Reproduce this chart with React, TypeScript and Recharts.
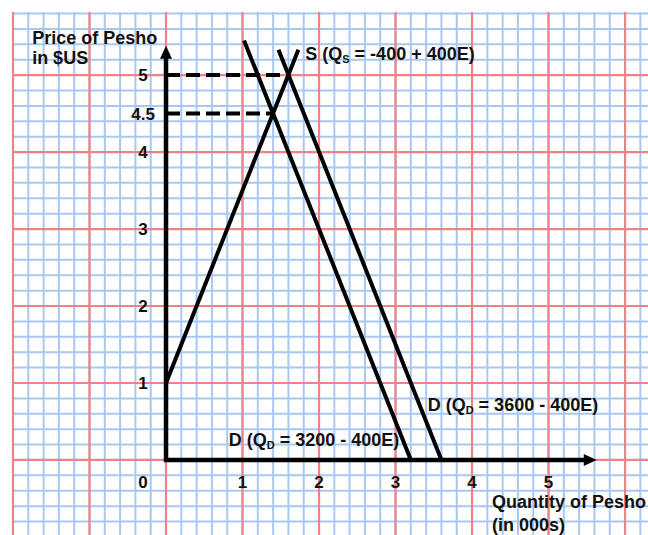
import React from 'react';
import { ComposedChart, Line, XAxis, YAxis, ReferenceLine, ReferenceDot } from 'recharts';

// Exchange-rate diagram on graph paper: supply + two demand curves for the Pesho
const X_DOMAIN = [-2, 6.3];
const Y_DOMAIN = [-0.975, 5.82];

// curve end points (Q in 000s, E in $US)
const SUPPLY = [{ q: 0, e: 1 }, { q: 1.73, e: 5.33 }];
const DEMAND_LOW = [{ q: 3.2, e: 0 }, { q: 1.02, e: 5.45 }];
const DEMAND_HIGH = [{ q: 3.6, e: 0 }, { q: 1.47, e: 5.33 }];
const GUIDE_5 = [{ q: 0, e: 5 }, { q: 1.6, e: 5 }];
const GUIDE_45 = [{ q: 0, e: 4.5 }, { q: 1.4, e: 4.5 }];
const AXES = [{ q: 0, e: 5.24 }, { q: 0, e: 0 }, { q: 5.48, e: 0 }];

const Y_TICKS = ['1', '2', '3', '4', '4.5', '5'];
const X_TICKS = ['0', '1', '2', '3', '4', '5'];

// graph-paper lines: minor every 0.2, major every 1
const range = (from: number, to: number, step: number) => {
  const out: number[] = [];
  for (let v = from; v <= to + 1e-9; v += step) out.push(Math.round(v * 100) / 100);
  return out;
};
const MINOR_X = range(-2, 6.2, 0.2);
const MINOR_Y = range(-0.8, 5.8, 0.2);
const MAJOR_X = range(-2, 6, 1);
const MAJOR_Y = range(0, 5, 1);

const FONT = 'Arial, "Liberation Sans", sans-serif';
const textStyle = { fontFamily: FONT, fontWeight: 700, fontSize: 18, fill: '#111' };
const tickStyle = { ...textStyle, fontSize: 17 };

const sub = (main: string, s: string, rest: string) => (
  <>
    {main}
    <tspan fontSize={11} dy={3}>{s}</tspan>
    <tspan dy={-3}>{rest}</tspan>
  </>
);

const label = (key: string, q: number, e: number, content: React.ReactNode, extra: any = {}) => (
  <ReferenceDot
    key={key}
    x={q}
    y={e}
    r={0}
    ifOverflow="visible"
    shape={(p: any) => (
      <text x={p.cx} y={p.cy} style={textStyle} {...extra}>
        {content}
      </text>
    )}
  />
);

export default function App() {
  return (
    <div style={{ position: 'absolute', left: 0, top: 0, width: 648, height: 535, background: '#fff' }}>
      <ComposedChart width={648} height={535} margin={{ top: 12, right: 0, bottom: 0, left: 13 }}>
        <XAxis type="number" dataKey="q" domain={X_DOMAIN} hide allowDataOverflow />
        <YAxis type="number" domain={Y_DOMAIN} hide allowDataOverflow />

        {MINOR_X.map((v) => <ReferenceLine key={'mx' + v} x={v} stroke="#a8c8f1" strokeWidth={2} />)}
        {MINOR_Y.map((v) => <ReferenceLine key={'my' + v} y={v} stroke="#a8c8f1" strokeWidth={2} />)}
        {MAJOR_X.map((v) => <ReferenceLine key={'Mx' + v} x={v} stroke="#ef8288" strokeWidth={2.2} />)}
        {MAJOR_Y.map((v) => <ReferenceLine key={'My' + v} y={v} stroke="#ef8288" strokeWidth={2.2} />)}

        <Line data={GUIDE_5} dataKey="e" stroke="#000" strokeWidth={4} strokeDasharray="14 6" dot={false} isAnimationActive={false} />
        <Line data={GUIDE_45} dataKey="e" stroke="#000" strokeWidth={4} strokeDasharray="14 6" dot={false} isAnimationActive={false} />
        <Line data={SUPPLY} dataKey="e" stroke="#000" strokeWidth={4} dot={false} isAnimationActive={false} />
        <Line data={DEMAND_LOW} dataKey="e" stroke="#000" strokeWidth={4} dot={false} isAnimationActive={false} />
        <Line data={DEMAND_HIGH} dataKey="e" stroke="#000" strokeWidth={4} dot={false} isAnimationActive={false} />
        <Line data={AXES} dataKey="e" stroke="#000" strokeWidth={4.5} strokeLinejoin="miter" dot={false} isAnimationActive={false} />

        {/* arrow heads */}
        <ReferenceDot x={0} y={5.38} r={0} ifOverflow="visible"
          shape={(p: any) => <polygon points={`${p.cx},${p.cy} ${p.cx - 6},${p.cy + 13} ${p.cx + 6},${p.cy + 13}`} fill="#000" />} />
        <ReferenceDot x={5.63} y={0} r={0} ifOverflow="visible"
          shape={(p: any) => <polygon points={`${p.cx},${p.cy} ${p.cx - 13},${p.cy - 6} ${p.cx - 13},${p.cy + 6}`} fill="#000" />} />

        {Y_TICKS.map((t) => label('y' + t, -0.3, Number(t), t, { textAnchor: 'middle', dy: 6, style: tickStyle }))}
        {X_TICKS.map((t) => label('x' + t, t === '0' ? -0.3 : Number(t), -0.3, t, { textAnchor: 'middle', dy: 5, style: tickStyle }))}

        {label('ytitle', -1.75, 5.4, 'Price of Pesho')}
        {label('ytitle2', -1.75, 5.14, 'in $US')}
        {label('s', 1.82, 5.19, sub('S (Q', 'S', ' = -400 + 400E)'))}
        {label('dh', 3.42, 0.64, sub('D (Q', 'D', ' = 3600 - 400E)'))}
        {label('dl', 0.82, 0.18, sub('D (Q', 'D', ' = 3200 - 400E)'))}
        {label('xtitle', 4.26, -0.63, 'Quantity of Pesho')}
        {label('xtitle2', 4.26, -0.92, '(in 000s)')}
      </ComposedChart>
    </div>
  );
}
